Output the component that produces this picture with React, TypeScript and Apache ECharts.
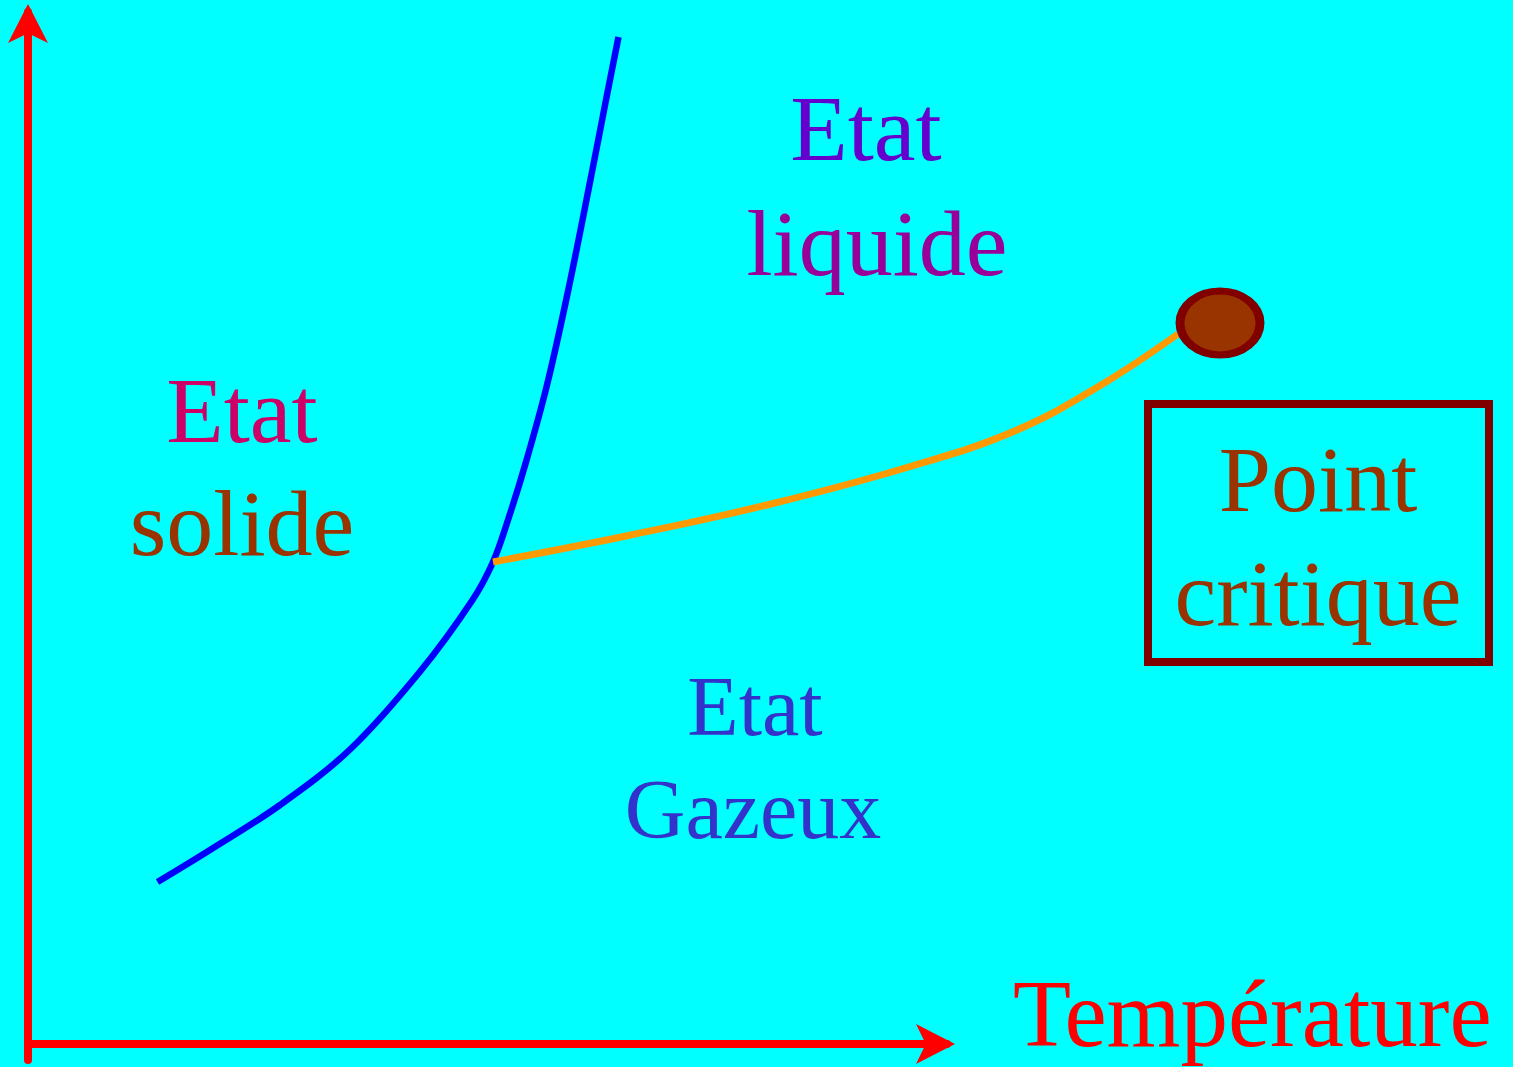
import React, { useEffect, useRef } from "react";
import * as echarts from "echarts";

// Phase diagram (arbitrary units: temperature to the right, pressure upward)
const solidBoundaryT = [129.5, 182, 252, 322.5, 392.5, 444.5, 465, 480, 498, 519, 540.5, 563, 578, 590.5];
const solidBoundaryP = [162, 194, 239, 295, 373, 444, 482, 524, 582, 659, 755, 867, 944, 1007];
const vaporT = [465, 603, 743, 884, 989, 1073, 1150];
const vaporP = [482, 509, 540, 578, 614, 659, 710];
const criticalT = [1192];
const criticalP = [721];
const xAxisTitle = "Température";

const labelTexts = ["Etat", "solide", "Etat", "liquide", "Etat", "Gazeux", "Point", "critique", xAxisTitle];
const labelColors = ["#CC0066", "#993300", "#6600CC", "#990099", "#3333CC", "#3333CC", "#993300", "#993300", "#FF0000"];

// layout (pixels): anchor x, baseline y, font size, alignment
const labelX = [242, 242, 866, 877, 755, 753, 1318, 1318, 1013];
const labelBase = [442, 555, 160, 275, 735, 838, 511, 625, 1046];
const labelSize = [94, 94, 94, 94, 84, 84, 94, 94, 95];
const labelAlign = ["center", "center", "center", "center", "center", "center", "center", "center", "left"];

const FONT = '"Liberation Serif", "Times New Roman", serif';

const hiddenAxis = {
  show: false,
  axisLine: { show: false },
  axisTick: { show: false },
  axisLabel: { show: false },
  splitLine: { show: false },
};

const redAxisLine = {
  show: true,
  onZero: false,
  symbol: ["none", "arrow"],
  symbolSize: [30, 39],
  symbolOffset: [0, 8],
  lineStyle: { color: "#FF0000", width: 8 },
};

export default function App() {
  const ref = useRef<HTMLDivElement>(null);

  useEffect(() => {
    document.body.style.margin = "0";
    if (!ref.current) return;
    const chart = echarts.init(ref.current, null, { renderer: "svg" });

    const blueData = solidBoundaryT.map((t, i) => [t, solidBoundaryP[i]]);
    const orangeData = vaporT.map((t, i) => [t, vaporP[i]]);
    const critData = criticalT.map((t, i) => [t, criticalP[i]]);

    const graphics: any[] = labelTexts.map((txt, i) => ({
      type: "text",
      z: 100,
      style: {
        text: txt,
        x: labelX[i],
        y: labelBase[i] - labelSize[i] * 0.3375,
        fill: labelColors[i],
        fontSize: labelSize[i],
        fontFamily: FONT,
        textAlign: labelAlign[i],
        textVerticalAlign: "middle",
      },
    }));
    graphics.push({
      type: "rect",
      z: 90,
      shape: { x: 1148, y: 404, width: 341, height: 258 },
      style: { fill: "none", stroke: "#800000", lineWidth: 8 },
    });

    chart.setOption({
      animation: false,
      backgroundColor: "#00FFFF",
      grid: [
        // data grid (same scale as the axes, wider so nothing is clipped)
        { left: 28, right: 0, top: 0, bottom: 7, containLabel: false, outerBoundsMode: "none" },
        // red axes
        { left: 28, right: 566, top: 12, bottom: 7, containLabel: false, outerBoundsMode: "none" },
      ],
      xAxis: [
        { type: "value", gridIndex: 0, min: 0, max: 1485, ...hiddenAxis },
        {
          type: "value",
          gridIndex: 1,
          min: 0,
          max: 919,
          axisLine: { ...redAxisLine, onZero: true },
          axisTick: { show: false },
          axisLabel: { show: false },
          splitLine: { show: false },
        },
      ],
      yAxis: [
        { type: "value", gridIndex: 0, min: -16, max: 1044, ...hiddenAxis },
        {
          type: "value",
          gridIndex: 1,
          min: -16,
          max: 1032,
          axisLine: redAxisLine,
          axisTick: { show: false },
          axisLabel: { show: false },
          splitLine: { show: false },
        },
      ],
      series: [
        {
          type: "line",
          xAxisIndex: 0,
          yAxisIndex: 0,
          data: blueData,
          smooth: 0.35,
          symbol: "none",
          lineStyle: { color: "#0000FF", width: 6.5 },
          z: 3,
        },
        {
          type: "line",
          xAxisIndex: 0,
          yAxisIndex: 0,
          data: orangeData,
          smooth: 0.4,
          symbol: "none",
          lineStyle: { color: "#FF9900", width: 7 },
          z: 4,
        },
        {
          type: "scatter",
          xAxisIndex: 0,
          yAxisIndex: 0,
          data: critData,
          symbol: "path://M0,32A40,32,0,1,1,80,32A40,32,0,1,1,0,32Z",
          symbolSize: [80, 64],
          itemStyle: { color: "#993300", borderColor: "#800000", borderWidth: 8, opacity: 1 },
          z: 5,
        },
      ],
      graphic: graphics,
    });

    return () => chart.dispose();
  }, []);

  return <div ref={ref} style={{ width: 1513, height: 1067 }} />;
}
